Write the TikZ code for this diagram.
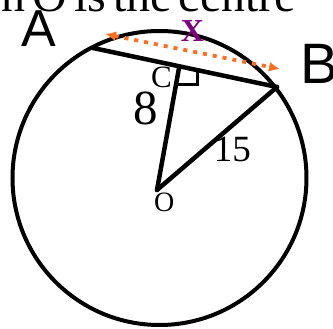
\documentclass[tikz,border=0pt]{standalone}
\usepackage{fontspec}
\setmainfont{Liberation Serif}
\newfontfamily\arialfont{Liberation Sans}
\usetikzlibrary{arrows.meta}
\definecolor{arrowor}{RGB}{255,110,30}
\definecolor{xpurple}{RGB}{128,0,128}
\tikzset{
  thick line/.style={line width=4.5pt, line cap=round, line join=round},
  ring/.style={line width=4pt},
  rmark/.style={line width=3pt, line join=miter},
  lbl/.style={inner sep=0pt, outer sep=0pt, anchor=base west},
  measure/.style={draw=arrowor, line width=3.8pt, dash pattern=on 4pt off 6pt,
    {Latex[length=11pt,width=10pt,fill=arrowor]}-{Latex[length=11pt,width=10pt,fill=arrowor]}},
}
\begin{document}
\begin{tikzpicture}[x=1pt,y=-1pt]
\useasboundingbox (0,0) rectangle (333,329);
\clip (0,0) rectangle (333,329);
\fill[white] (0,0) rectangle (333,329);
% points
\coordinate (ctr) at (159.5,178);
\coordinate (A) at (93,48);
\coordinate (B) at (277,87);
\coordinate (C) at (179,68);
\coordinate (O) at (157,190);
\coordinate (r1) at (197,70.5);
\coordinate (r2) at (197,85);
\coordinate (r3) at (176,85);
\coordinate (L) at (105,34);
\coordinate (R) at (280,69);
% heading (cut off at the top)
\node[inner sep=0pt, anchor=base west, font=\fontsize{48}{48}\selectfont] (head) at (-22.6,12)
  {\spaceskip=7pt\relax on O is the centre};
% circle and segments
\draw[ring] (ctr) circle[radius=147pt];
\draw[thick line] (A) -- (B);
\draw[thick line] (O) -- (C);
\draw[thick line] (O) -- (B);
\draw[rmark] (r1) -- (r2) -- (r3);
% measurement arrow
\draw[measure] (L) -- (R);
% labels
\node[lbl, font=\arialfont\fontsize{52}{52}\selectfont] (la) at (22,47) {A};
\node[lbl, font=\arialfont\fontsize{57}{57}\selectfont] (lb) at (301,84) {B};
\node[lbl, text=xpurple, font=\bfseries\fontsize{32}{32}\selectfont] (lx) at (181,42) {X};
\node[lbl, font=\fontsize{31}{31}\selectfont] (lc) at (151,88) {C};
\node[lbl, font=\fontsize{49}{49}\selectfont] (l8) at (133,125) {8};
\node[lbl, font=\fontsize{37}{37}\selectfont] (l15) at (214,162) {15};
\node[lbl, font=\fontsize{28}{28}\selectfont] (lo) at (154,212) {O};
\end{tikzpicture}
\end{document}
